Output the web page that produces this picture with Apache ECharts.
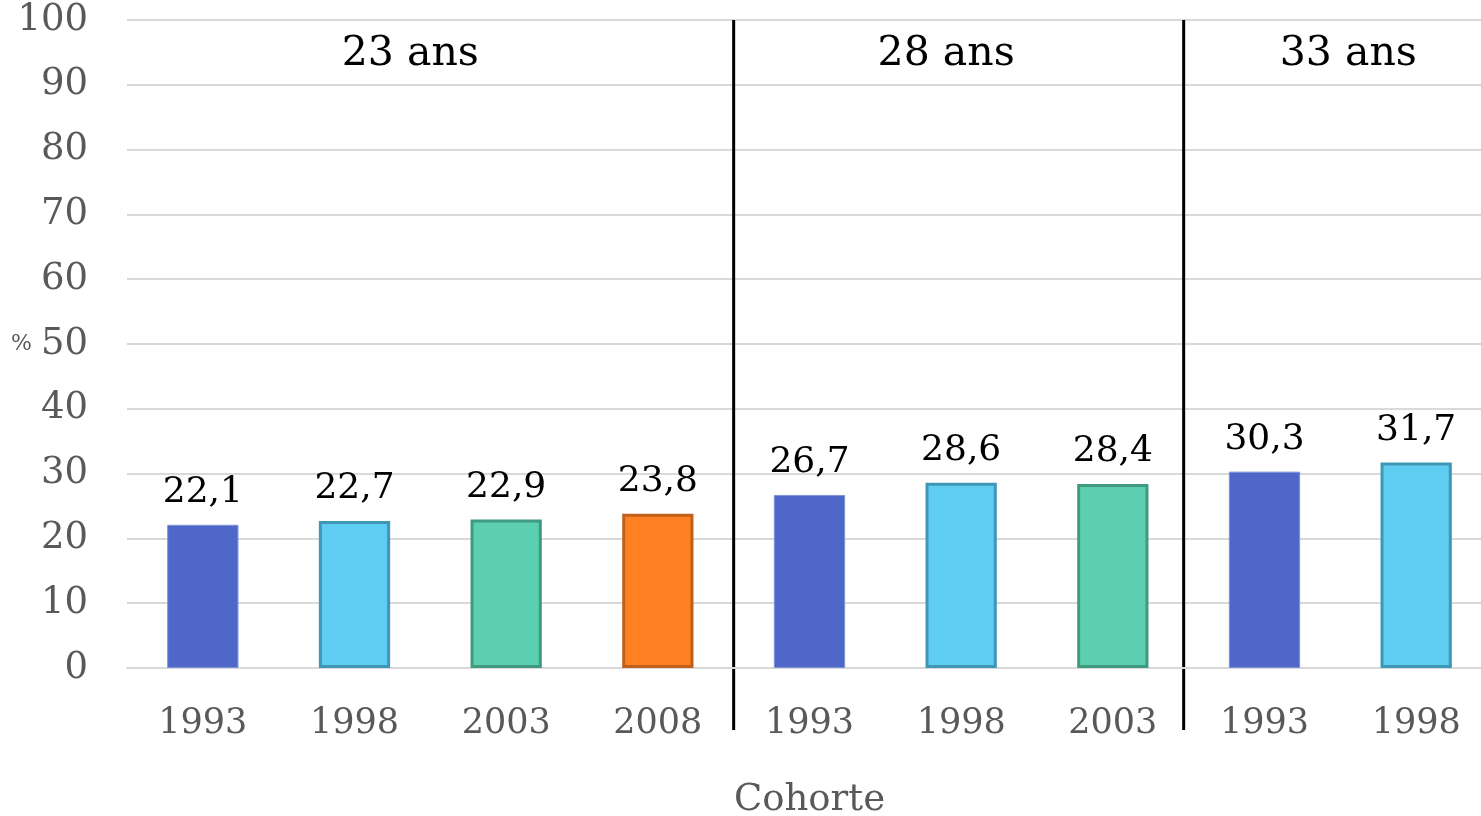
<!DOCTYPE html>
<html>
<head>
<meta charset="utf-8">
<script src="https://cdn.jsdelivr.net/npm/echarts@6/dist/echarts.min.js"></script>
<style>
  html, body { margin: 0; padding: 0; background: #fff; }
  #chart { width: 1481px; height: 816px; }
</style>
</head>
<body>
<div id="chart"></div>
<script>
// données
const cohortes = ['1993', '1998', '2003', '2008', '1993', '1998', '2003', '1993', '1998']
const valeurs = [22.1, 22.7, 22.9, 23.8, 26.7, 28.6, 28.4, 30.3, 31.7]
const groupes = ['23 ans', '28 ans', '33 ans']
const groupeDebut = [0, 4, 7]
const groupeFin = [3, 6, 8]
const yTicks = [0, 10, 20, 30, 40, 50, 60, 70, 80, 90, 100]

const FONT = 'DejaVu Serif'
const couleurs = {
  '1993': { fill: '#4F67C8', border: '#7F93D8', bw: 1 },
  '1998': { fill: '#5FCDF2', border: '#3F97B6', bw: 3 },
  '2003': { fill: '#5BCFB0', border: '#3F9A80', bw: 3 },
  '2008': { fill: '#FF8022', border: '#C0601C', bw: 3 }
}
// petits décalages des titres / séparateurs (px)
const titreDecalage = [-20, -15, 8]
const sepDecalage = [0, 0, -5]

const chart = echarts.init(document.getElementById('chart'))

chart.setOption({
  backgroundColor: '#fff',
  animation: false,
  grid: { left: 127, top: 20, width: 1365, height: 648, outerBoundsMode: 'none', containLabel: false },
  xAxis: {
    type: 'category',
    data: cohortes,
    name: 'Cohorte',
    nameLocation: 'middle',
    nameGap: 114,
    nameTextStyle: { fontFamily: FONT, fontSize: 37, color: '#595959' },
    axisLine: { lineStyle: { color: '#D9D9D9', width: 2 } },
    axisTick: { show: false },
    axisLabel: { fontFamily: FONT, fontSize: 35, color: '#595959', margin: 38, interval: 0 }
  },
  yAxis: {
    type: 'value',
    min: yTicks[0],
    max: yTicks[yTicks.length - 1],
    interval: 10,
    name: '%',
    nameLocation: 'middle',
    nameRotate: 0,
    nameGap: 95,
    nameMoveOverlap: false,
    nameTextStyle: { fontFamily: FONT, fontSize: 22, color: '#595959', padding: [0, 0, 8, 0] },
    axisLine: { show: false },
    axisTick: { show: false },
    axisLabel: { fontFamily: FONT, fontSize: 37, color: '#595959', margin: 39 },
    splitLine: { lineStyle: { color: '#D9D9D9', width: 2 } }
  },
  series: [{
    type: 'bar',
    barWidth: '47%',
    data: valeurs.map((v, i) => {
      const c = couleurs[cohortes[i]]
      return { value: v, itemStyle: { color: c.fill, borderColor: c.border, borderWidth: c.bw } }
    }),
    label: {
      show: true,
      position: 'top',
      distance: 14,
      fontFamily: FONT,
      fontSize: 36,
      color: '#000',
      formatter: p => String(p.value).replace('.', ',')
    }
  }]
})

// séparateurs et titres de groupes
const px = i => chart.convertToPixel({ xAxisIndex: 0 }, i)
const yTop = chart.convertToPixel({ yAxisIndex: 0 }, 100)
const graphics = []
groupes.forEach((g, k) => {
  const x0 = px(groupeDebut[k])
  const x1 = px(groupeFin[k])
  graphics.push({
    type: 'text',
    x: (x0 + x1) / 2 + titreDecalage[k],
    y: yTop + 34,
    style: { text: g, font: '41px "' + FONT + '"', fill: '#000', align: 'center', verticalAlign: 'middle' }
  })
  if (k > 0) {
    const xs = (px(groupeDebut[k] - 1) + x0) / 2 + sepDecalage[k]
    graphics.push({
      type: 'line',
      shape: { x1: xs, y1: yTop, x2: xs, y2: 730 },
      style: { stroke: '#000', lineWidth: 3 }
    })
  }
})
chart.setOption({ graphic: graphics })
</script>
</body>
</html>
